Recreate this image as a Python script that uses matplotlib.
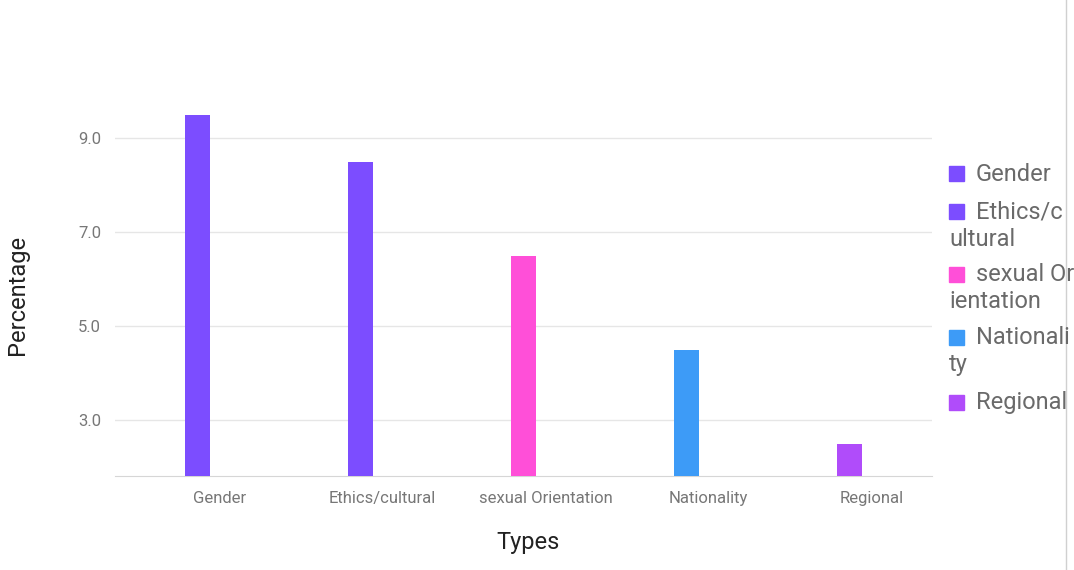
import matplotlib
matplotlib.use("Agg")
from matplotlib import pyplot as plt
from matplotlib.lines import Line2D
from matplotlib.patches import Rectangle

plt.rcParams["font.family"] = ["Roboto", "DejaVu Sans"]

# data
types = ["Gender", "Ethics/cultural", "sexual Orientation", "Nationality", "Regional"]
percentages = [9.5, 8.5, 6.5, 4.5, 2.5]
colors = ["#7c4dff", "#7c4dff", "#ff4fd8", "#3d9bf7", "#b04cfa"]
legend_labels = ["Gender", "Ethics/c\nultural", "sexual Or\nientation", "Nationali\nty", "Regional"]
y_ticks = [3.0, 5.0, 7.0, 9.0]

W, H = 1074, 570
fig = plt.figure(figsize=(W / 100, H / 100), dpi=100)
# axes box in pixels: left 115, right 932, top 91, bottom 476
ax = fig.add_axes([115 / W, 1 - 476 / H, (932 - 115) / W, (476 - 91) / H])

x = list(range(len(types)))
bar_x = [i - 0.135 for i in x]
ax.bar(bar_x, percentages, width=0.153, color=colors, bottom=0, zorder=3)

ax.set_xlim(-0.64, 4.37)
ax.set_ylim(1.81, 10.0)
ax.set_yticks(y_ticks)
ax.set_yticklabels([f"{v:.1f}" for v in y_ticks])
ax.set_xticks(x)
ax.set_xticklabels(types)

ax.grid(axis="y", color="#e6e6e6", linewidth=1, zorder=0)
for side in ["top", "right", "left"]:
    ax.spines[side].set_visible(False)
ax.spines["bottom"].set_color("#d6d6d6")
ax.tick_params(axis="both", length=0, colors="#777777", labelsize=12)
ax.tick_params(axis="x", pad=10.5)
ax.tick_params(axis="y", pad=10)

ax.set_xlabel("Types", fontsize=17, color="#222222", va="center")
ax.xaxis.set_label_coords(0.505, -0.174)
ax.set_ylabel("Percentage", fontsize=17, color="#222222", va="center")
ax.yaxis.set_label_coords(-0.119, 0.47)

# legend drawn by hand so wrapped lines start under the marker
entry_y = [174, 212, 275, 338, 403]
for lab, col, yy in zip(legend_labels, colors, entry_y):
    fig.add_artist(Rectangle((949 / W, 1 - (yy + 7) / H), 15 / W, 15 / H,
                             color=col, transform=fig.transFigure))
    lines = lab.split("\n")
    fig.text(976 / W, 1 - yy / H, lines[0], fontsize=17, color="#6a6a6a",
             va="center", ha="left")
    if len(lines) > 1:
        fig.text(949 / W, 1 - (yy + 27) / H, lines[1], fontsize=17,
                 color="#6a6a6a", va="center", ha="left")

# thin border on the right edge of the screenshot
fig.add_artist(Line2D([1066 / W, 1066 / W], [0, 1], color="#d0d0d0",
                      linewidth=1, transform=fig.transFigure))

fig.savefig("out.png", dpi=100, facecolor="white")
